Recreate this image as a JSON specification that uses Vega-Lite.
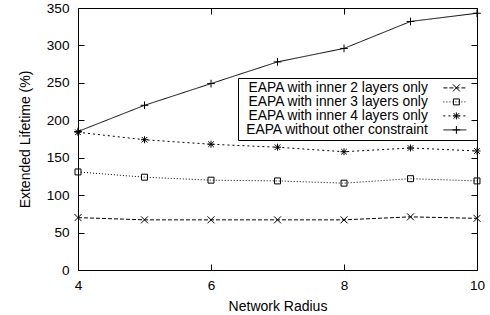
{
  "$schema": "https://vega.github.io/schema/vega-lite/v6.json",
  "autosize": "none",
  "width": 399,
  "height": 262,
  "padding": {"left": 78, "top": 8, "right": 13, "bottom": 45},
  "background": "white",
  "config": {
    "view": {"stroke": "black", "strokeWidth": 1},
    "font": "Liberation Sans",
    "axis": {
      "domain": false,
      "grid": false,
      "tickColor": "black",
      "tickSize": -6,
      "labelFlush": false,
      "labelColor": "black",
      "labelFont": "Liberation Sans",
      "labelFontSize": 13.6,
      "titleFont": "Liberation Sans",
      "titleFontSize": 14,
      "titleFontWeight": "normal",
      "titleColor": "black"
    }
  },
  "data": {
    "values": [
      {"r": 4, "v": 70, "s": "EAPA with inner 2 layers only"},
      {"r": 5, "v": 67, "s": "EAPA with inner 2 layers only"},
      {"r": 6, "v": 67, "s": "EAPA with inner 2 layers only"},
      {"r": 7, "v": 67, "s": "EAPA with inner 2 layers only"},
      {"r": 8, "v": 67, "s": "EAPA with inner 2 layers only"},
      {"r": 9, "v": 71, "s": "EAPA with inner 2 layers only"},
      {"r": 10, "v": 69, "s": "EAPA with inner 2 layers only"},
      {"r": 4, "v": 131, "s": "EAPA with inner 3 layers only"},
      {"r": 5, "v": 124, "s": "EAPA with inner 3 layers only"},
      {"r": 6, "v": 120, "s": "EAPA with inner 3 layers only"},
      {"r": 7, "v": 119, "s": "EAPA with inner 3 layers only"},
      {"r": 8, "v": 116, "s": "EAPA with inner 3 layers only"},
      {"r": 9, "v": 122, "s": "EAPA with inner 3 layers only"},
      {"r": 10, "v": 119, "s": "EAPA with inner 3 layers only"},
      {"r": 4, "v": 184, "s": "EAPA with inner 4 layers only"},
      {"r": 5, "v": 174, "s": "EAPA with inner 4 layers only"},
      {"r": 6, "v": 168, "s": "EAPA with inner 4 layers only"},
      {"r": 7, "v": 164, "s": "EAPA with inner 4 layers only"},
      {"r": 8, "v": 158, "s": "EAPA with inner 4 layers only"},
      {"r": 9, "v": 163, "s": "EAPA with inner 4 layers only"},
      {"r": 10, "v": 159, "s": "EAPA with inner 4 layers only"},
      {"r": 4, "v": 185, "s": "EAPA without other constraint"},
      {"r": 5, "v": 220, "s": "EAPA without other constraint"},
      {"r": 6, "v": 249, "s": "EAPA without other constraint"},
      {"r": 7, "v": 278, "s": "EAPA without other constraint"},
      {"r": 8, "v": 296, "s": "EAPA without other constraint"},
      {"r": 9, "v": 332, "s": "EAPA without other constraint"},
      {"r": 10, "v": 343, "s": "EAPA without other constraint"}
    ]
  },
  "resolve": {"axis": {"x": "independent", "y": "independent"}},
  "layer": [
    {
      "mark": {"type": "line", "color": "black", "strokeWidth": 1},
      "encoding": {
        "x": {"field": "r", "type": "quantitative", "scale": {"domain": [4, 10], "nice": false, "zero": false},
              "axis": {"orient": "bottom", "values": [4, 6, 8, 10], "title": "Network Radius", "labelPadding": 14, "titlePadding": 8}},
        "y": {"field": "v", "type": "quantitative", "scale": {"domain": [0, 350], "nice": false},
              "axis": {"orient": "left", "values": [0, 50, 100, 150, 200, 250, 300, 350], "title": "Extended Lifetime (%)", "labelPadding": 15, "titlePadding": 14}},
        "strokeDash": {
          "field": "s", "type": "nominal",
          "scale": {
            "domain": ["EAPA with inner 2 layers only", "EAPA with inner 3 layers only", "EAPA with inner 4 layers only", "EAPA without other constraint"],
            "range": [[4, 2], [1, 2], [2, 3], [1, 0]]
          },
          "legend": {
            "orient": "none",
            "legendX": 160,
            "legendY": 70,
            "title": null,
            "direction": "vertical",
            "labelAlign": "right",
            "labelOffset": -34,
            "labelFont": "Liberation Sans",
            "labelFontSize": 13.8,
            "labelColor": "black",
            "labelLimit": 400,
            "rowPadding": -1.5,
            "padding": 3,
            "strokeColor": "black",
            "symbolType": "M-2.3,0H2.3M3.3,0",
            "symbolSize": 100,
            "symbolOffset": 207,
            "symbolStrokeColor": "black",
            "symbolStrokeWidth": 1
          }
        }
      }
    },
    {
      "mark": {"type": "point", "filled": false, "color": "black", "strokeWidth": 1, "size": 49, "opacity": 1},
      "encoding": {
        "x": {"field": "r", "type": "quantitative",
              "axis": {"orient": "top", "values": [4, 6, 8, 10], "labels": false, "title": null}},
        "y": {"field": "v", "type": "quantitative",
              "axis": {"orient": "right", "values": [0, 50, 100, 150, 200, 250, 300, 350], "labels": false, "title": null}},
        "shape": {
          "field": "s", "type": "nominal",
          "scale": {
            "range": ["M-1,-1L1,1M-1,1L1,-1", "M-0.85,-0.85H0.85V0.85H-0.85Z", "M-1,0H1M0,-1V1M-0.8,-0.8L0.8,0.8M-0.8,0.8L0.8,-0.8", "M-1.1,0H1.1M0,-1.1V1.1"]
          },
          "legend": {
            "orient": "none",
            "legendX": 160,
            "legendY": 70,
            "title": null,
            "direction": "vertical",
            "labelAlign": "right",
            "labelOffset": -34,
            "labelFont": "Liberation Sans",
            "labelFontSize": 13.8,
            "labelOpacity": 0,
            "labelLimit": 400,
            "rowPadding": -1.5,
            "padding": 3,
            "symbolSize": 49,
            "symbolOffset": 208.5,
            "symbolStrokeColor": "black",
            "symbolFillColor": "transparent",
            "symbolStrokeWidth": 1
          }
        }
      }
    }
  ]
}
